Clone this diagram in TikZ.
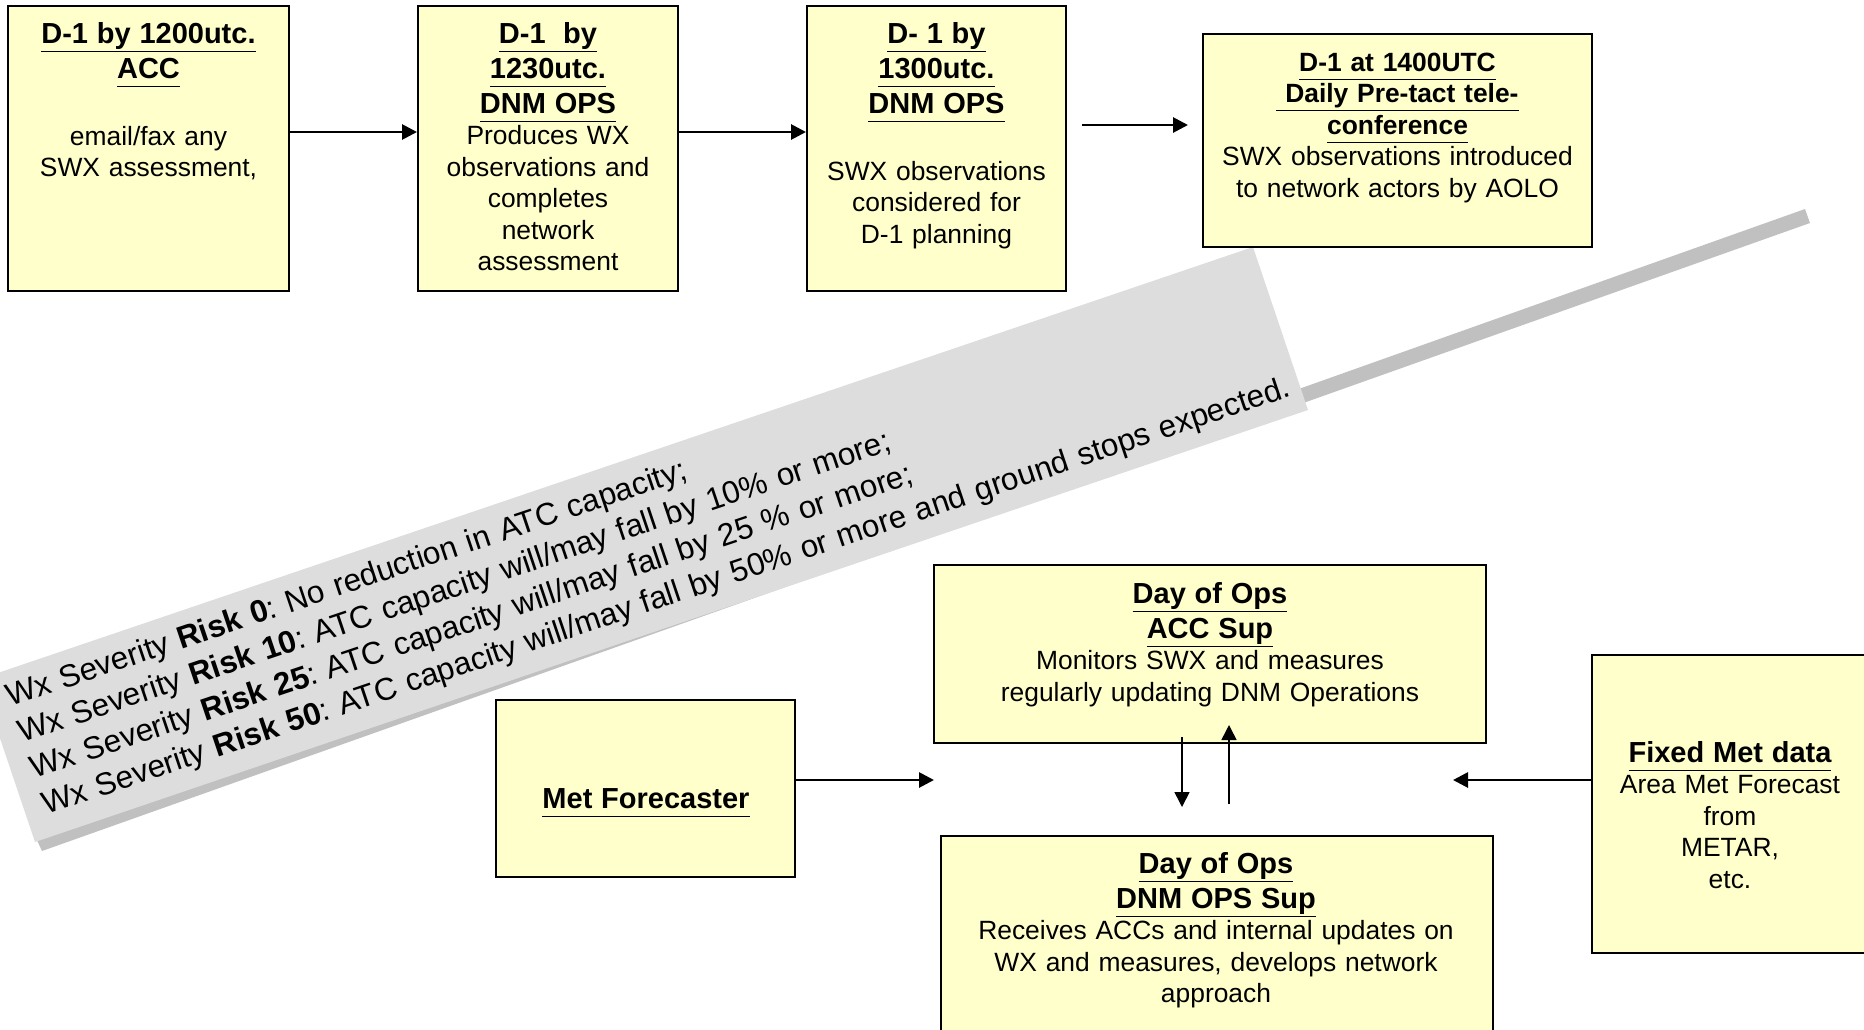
\documentclass[tikz,border=0pt]{standalone}
\usepackage{fontspec}
\setmainfont{Liberation Sans}
\usetikzlibrary{arrows.meta,positioning}
\definecolor{boxfill}{HTML}{FFFFCC}
\definecolor{bannergray}{HTML}{DDDDDD}
\definecolor{bannershade}{HTML}{C0C0C0}
\frenchspacing
\newcommand\titlefont{\fontsize{14.5}{17.5}\selectfont\bfseries}
\newcommand\bodyfont{\fontsize{13.2}{15.75}\selectfont}
\newcommand\bannerfont{\fontsize{15.75}{19}\selectfont}
\newcommand\ttl[1]{\underline{#1\vphantom{y}}}
\tikzset{>={Triangle[length=7.5pt,width=7.5pt]},
  every node/.style={font=\bodyfont},
  stage/.style={draw=black,fill=boxfill,line width=1pt,inner sep=0pt},
  stagetext/.style={anchor=base,align=center,inner sep=0pt},
  flow/.style={->,line width=1.4pt},
  thinflow/.style={->,line width=.8pt}}

\begin{document}
\begin{tikzpicture}[x=.5pt,y=-.5pt]
\useasboundingbox (0,0) rectangle (1864,1029);
% severity banner
\fill[bannershade] (42,851) -- (1810,223) -- (1805,209) -- (36,838) -- cycle;
\fill[bannergray] (-20,679) -- (1253,247) -- (1308,410) -- (35,842) -- cycle;
\node[rotate=18.6,anchor=base west,text width=800pt,align=left,inner sep=0pt,font=\bannerfont] (risk) at (10,707)
  {Wx Severity \textbf{Risk 0}: No reduction in ATC capacity;\\
   Wx Severity \textbf{Risk 10}: ATC capacity will/may fall by 10\% or more;\\
   Wx Severity \textbf{Risk 25}: ATC capacity will/may fall by 25 \% or more;\\
   Wx Severity \textbf{Risk 50}: ATC capacity will/may fall by 50\% or more and ground stops expected.};
% D-1 row
\node[stage,minimum width=140.5pt,minimum height=142.5pt] (acc) at (148.5,148.5) {};
\node[stage,minimum width=130pt,minimum height=142.5pt] (dnm) at (548,148.5) {};
\node[stage,minimum width=129.5pt,minimum height=142.5pt] (plan) at (936.5,148.5) {};
\node[stage,minimum width=194.5pt,minimum height=106.5pt] (tele) at (1397.5,140.5) {};
\node[stagetext,text width=134pt] (acc t) at (148.5,43)
  {{\titlefont\ttl{D-1 by 1200utc.}\\\ttl{ACC}\par}\vspace{17.75pt}email/fax any\\SWX assessment,};
\node[stagetext,text width=126pt] (dnm t) at (548,43)
  {{\titlefont\ttl{D-1\ \ by}\\\ttl{1230utc.}\\\ttl{DNM OPS}\par}Produces WX\\observations and\\completes\\network\\assessment};
\node[stagetext,text width=126pt] (plan t) at (936.5,43)
  {{\titlefont\ttl{D- 1 by}\\\ttl{1300utc.}\\\ttl{DNM OPS}\par}\vspace{17.75pt}SWX observations\\considered for\\D-1 planning};
\node[stagetext,text width=190pt] (tele t) at (1397.5,71)
  {{\bfseries\ttl{D-1 at 1400UTC}\\\ttl{\ Daily Pre-tact tele-}\\\ttl{conference}\par}SWX observations introduced\\to network actors by AOLO};
\coordinate (tele from) at (1082,125);
\coordinate (tele to) at (1188,125);
\draw[flow] ([yshift=8.25pt]acc.east) -- ([yshift=8.25pt]dnm.west);
\draw[flow] ([yshift=8.25pt]dnm.east) -- ([yshift=8.25pt]plan.west);
\draw[flow] (tele from) -- (tele to);
% day of ops
\node[stage,minimum width=276pt,minimum height=89pt] (accsup) at (1210,654) {};
\node[stage,minimum width=276pt,minimum height=107pt] (dnmsup) at (1217,943) {};
\node[stage,minimum width=149.5pt,minimum height=88.5pt] (met) at (645.5,788.5) {};
\node[stage,minimum width=139pt,minimum height=149pt] (fixed) at (1731,804) {};
\node[stagetext,text width=270pt] (accsup t) at (1210,603)
  {{\titlefont\ttl{Day of Ops}\\\ttl{ACC Sup}\par}Monitors SWX and measures\\regularly updating DNM Operations};
\node[stagetext,text width=270pt] (dnmsup t) at (1216,873)
  {{\titlefont\ttl{Day of Ops}\\\ttl{DNM OPS Sup}\par}Receives ACCs and internal updates on\\WX and measures, develops network\\approach};
\node[stagetext,text width=140pt] (met t) at (646,808) {{\titlefont\ttl{Met Forecaster}\par}};
\node[stagetext,text width=134pt] (fixed t) at (1730,762)
  {{\titlefont\ttl{Fixed Met data}\par}Area Met Forecast\\from\\METAR,\\etc.};
\coordinate (hub west) at (934,780);
\coordinate (hub east) at (1453,780);
\coordinate (down from) at (1182,737);
\coordinate (down to) at (1182,807);
\coordinate (up from) at (1229,804);
\coordinate (up to) at (1229,725);
\draw[flow] (met.east |- hub west) -- (hub west);
\draw[flow] (fixed.west |- hub east) -- (hub east);
\draw[thinflow] (down from) -- (down to);
\draw[thinflow] (up from) -- (up to);
\end{tikzpicture}
\end{document}
